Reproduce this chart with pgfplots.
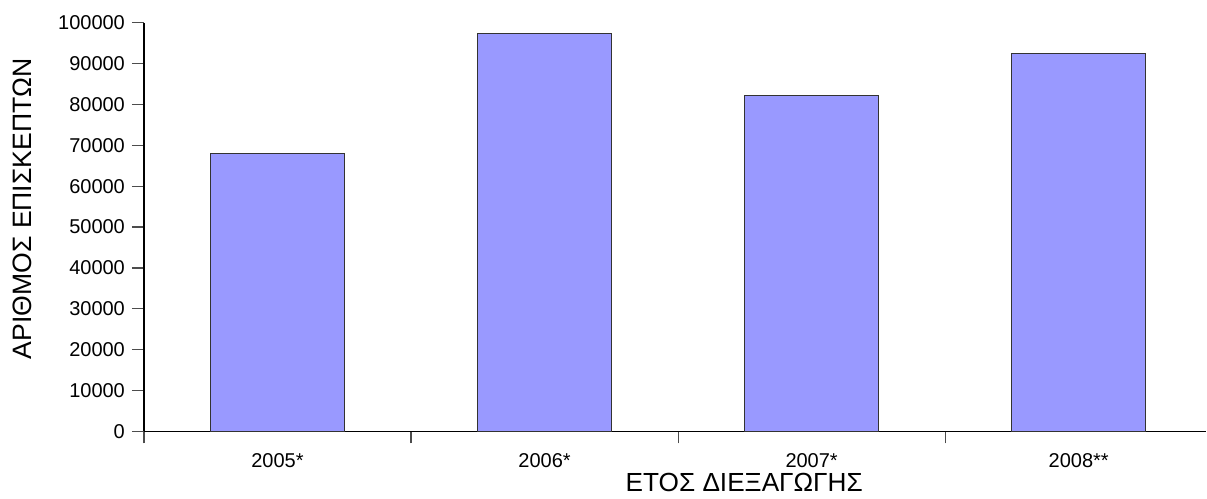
\documentclass[border=0pt]{standalone}
\usepackage{pgfplots}
\pgfplotsset{compat=1.18}
\usepackage{fontspec}
\setmainfont{Liberation Sans}
\definecolor{barfill}{HTML}{9999FF}
\begin{document}
\begin{tikzpicture}
\begin{axis}[
  name=ax,
  scale only axis,
  width=531.5pt, height=204.5pt,
  xmin=-0.5, xmax=3.478,
  ymin=0, ymax=100000,
  axis lines*=left,
  axis line style={black, line width=0.6pt},
  tick align=outside,
  major tick length=6pt,
  tick style={gray!60!black, line width=0.6pt},
  ytick={0,10000,...,100000},
  xtick={-0.5,0.5,1.5,2.5},
  xticklabels={2005*,2006*,2007*,2008**},
  xticklabel style={xshift=66.8pt, yshift=-1.5pt, font=\fontsize{10}{12}\selectfont},
  yticklabel style={font=\fontsize{10}{12}\selectfont},
  scaled y ticks=false,
  /pgf/number format/assume math mode=true,
  yticklabel={\pgfmathprintnumber[fixed,1000 sep={}]{\tick}},
  xlabel={ΕΤΟΣ ΔΙΕΞΑΓΩΓΗΣ},
  ylabel={ΑΡΙΘΜΟΣ ΕΠΙΣΚΕΠΤΩΝ},
  xlabel style={font=\fontsize{13.1}{15}\selectfont, at={(axis description cs:0.565,0)}, anchor=base, yshift=-30pt},
  ylabel style={font=\fontsize{13.3}{15}\selectfont, at={([xshift=-56pt]axis description cs:0,0.5445)}, anchor=base},
  ybar, bar width=0.5, 
  clip=false,
]
\addplot[fill=barfill, draw=black!80, line width=0.5pt] coordinates {(0,67900) (1,97300) (2,82200) (3,92400)};
\end{axis}
\path ([shift={(-72pt,-31.15pt)}]ax.south west) rectangle ([shift={(0pt,11.35pt)}]ax.north east);
\end{tikzpicture}
\end{document}
